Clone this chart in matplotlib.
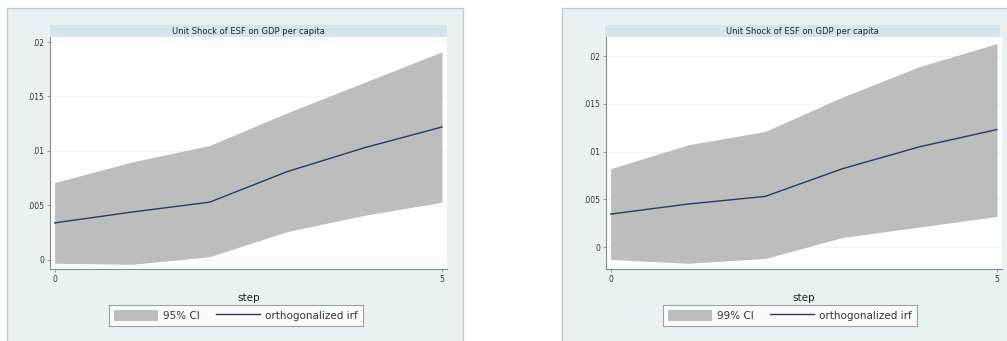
"""Orthogonalized IRF with confidence bands, two panels (95% / 99%)."""

import matplotlib

matplotlib.use("Agg")
import matplotlib.pyplot as plt
from matplotlib.patches import Rectangle

# --- data ---
steps = [0, 1, 2, 3, 4, 5]

irf_left = [0.0034, 0.0044, 0.0053, 0.0081, 0.0103, 0.0122]
ci95_upper = [0.0071, 0.0090, 0.0105, 0.0135, 0.0163, 0.0191]
ci95_lower = [-0.0003, -0.0004, 0.0003, 0.0026, 0.0041, 0.0053]

irf_right = [0.00345, 0.0045, 0.0053, 0.0082, 0.0105, 0.0123]
ci99_upper = [0.0082, 0.0107, 0.0121, 0.0157, 0.0189, 0.0213]
ci99_lower = [-0.0013, -0.0017, -0.0012, 0.0010, 0.0021, 0.0032]

y_ticks = [0, 0.005, 0.01, 0.015, 0.02]
y_ticklabels = ["0", ".005", ".01", ".015", ".02"]
x_ticks = [0, 5]
title = "Unit Shock of ESF on GDP per capita"

W, H = 1007, 341
BG = "#eaf1f3"
STRIP = "#d7e5ea"
FILL = "#bdbdbd"
LINE = "#2b3b57"

fig = plt.figure(figsize=(W / 100, H / 100), dpi=100)
fig.patch.set_facecolor("white")


def px(x0, y0, x1, y1):
    """Pixel box (top-left origin) to figure fraction rect."""
    return [x0 / W, 1 - y1 / H, (x1 - x0) / W, (y1 - y0) / H]


def panel(box, ax_box, strip_box, legend_xy, ylim, irf, lo, hi, ci_label):
    bx = px(*box)
    fig.add_artist(Rectangle((bx[0], bx[1]), bx[2], bx[3], transform=fig.transFigure,
                             facecolor=BG, edgecolor="#c4c9cb", lw=1.0, zorder=0))
    sx = px(*strip_box)
    fig.add_artist(Rectangle((sx[0], sx[1]), sx[2], sx[3], transform=fig.transFigure,
                             facecolor=STRIP, edgecolor="none", zorder=1))
    fig.text(sx[0] + sx[2] / 2, sx[1] + sx[3] / 2, title, ha="center", va="center",
             fontsize=6, color="#222222", zorder=2)

    ax = fig.add_axes(px(*ax_box))
    ax.set_facecolor("white")
    ax.fill_between(steps, lo, hi, color=FILL, lw=0, label=ci_label, zorder=2)
    ax.plot(steps, irf, color=LINE, lw=1.0, label="orthogonalized irf", zorder=3)
    ax.set_xlim(-0.06, 5.065)
    ax.set_ylim(*ylim)
    ax.set_yticks(y_ticks)
    ax.set_yticklabels(y_ticklabels)
    ax.set_xticks(x_ticks)
    ax.grid(axis="y", color="#eef2f4", lw=0.6, zorder=0)
    ax.set_axisbelow(True)
    for side in ("top", "right"):
        ax.spines[side].set_visible(False)
    for side in ("left", "bottom"):
        ax.spines[side].set_color("#8a8a8a")
        ax.spines[side].set_linewidth(0.8)
    ax.tick_params(labelsize=5.5, length=2.5, width=0.6, color="#8a8a8a",
                   labelcolor="#333333", pad=1.5)
    ax.set_xlabel("step", fontsize=7.5, color="#222222", labelpad=7)

    handles, labels = ax.get_legend_handles_labels()
    leg = fig.legend(handles, labels, loc="center", ncol=2,
                     bbox_to_anchor=(legend_xy[0] / W, 1 - legend_xy[1] / H),
                     fontsize=7.5, frameon=True, fancybox=False, handlelength=4.2,
                     handleheight=1.3, columnspacing=1.6, borderpad=0.45,
                     borderaxespad=0, handletextpad=0.5)
    leg.get_frame().set_edgecolor("#8a8a8a")
    leg.get_frame().set_linewidth(0.8)
    leg.get_frame().set_facecolor("white")
    for t in leg.get_texts():
        t.set_color("#333333")
    return ax


panel((7, 8, 463, 345), (50, 37, 447, 269), (50, 25, 447, 37), (236, 315.5),
      (-0.00083, 0.02046), irf_left, ci95_lower, ci95_upper, "95% CI")
panel((562, 8, 1012, 345), (606, 37, 1002, 269), (605, 25, 1000, 37), (790, 315.5),
      (-0.0023, 0.02199), irf_right, ci99_lower, ci99_upper, "99% CI")

fig.savefig("out.png", dpi=100)
